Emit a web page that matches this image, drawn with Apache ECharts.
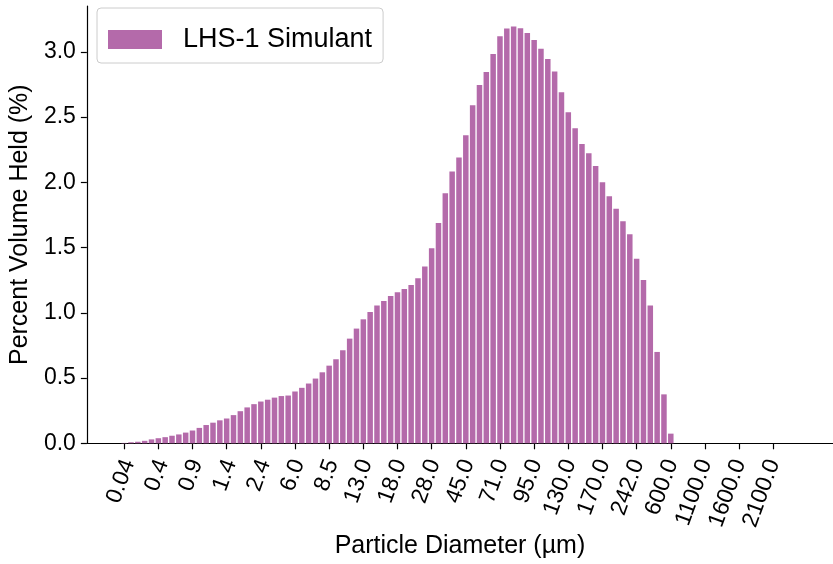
<!DOCTYPE html>
<html>
<head>
<meta charset="utf-8">
<script src="https://cdn.jsdelivr.net/npm/echarts@6/dist/echarts.min.js"></script>
<style>html,body{margin:0;padding:0;background:#fff;}#chart{width:833px;height:564px;}</style>
</head>
<body>
<div id="chart"></div>
<script>
// tick labels shown every 5th bin
var tickLabels = ['0.04','0.4','0.9','1.4','2.4','6.0','8.5','13.0','18.0','28.0','45.0','71.0','95.0','130.0','170.0','242.0','600.0','1100.0','1600.0','2100.0'];
// bin index (category position) for each of the 100 bins
var binIndex = [];
for (var k = 0; k < 100; k++) binIndex.push(k);
// percent volume held per bin
var volumeHeld = [
  0.003, 0.008, 0.012, 0.019, 0.030, 0.039, 0.047, 0.058, 0.068, 0.082,
  0.098, 0.118, 0.140, 0.158, 0.176, 0.190, 0.216, 0.246, 0.275, 0.300,
  0.320, 0.334, 0.350, 0.362, 0.366, 0.397, 0.425, 0.458, 0.496, 0.544,
  0.595, 0.644, 0.713, 0.802, 0.879, 0.950, 1.006, 1.055, 1.090, 1.128,
  1.157, 1.183, 1.213, 1.264, 1.354, 1.494, 1.688, 1.916, 2.082, 2.189,
  2.360, 2.590, 2.746, 2.846, 2.983, 3.119, 3.178, 3.193, 3.180, 3.144,
  3.091, 3.024, 2.945, 2.848, 2.690, 2.536, 2.414, 2.294, 2.222, 2.125,
  2.000, 1.893, 1.798, 1.701, 1.602, 1.415, 1.251, 1.055, 0.700, 0.375,
  0.074, 0, 0, 0, 0, 0, 0, 0, 0, 0,
  0, 0, 0, 0, 0, 0, 0, 0, 0, 0
];
var yTicks = [0, 0.5, 1.0, 1.5, 2.0, 2.5, 3.0];
var seriesName = 'LHS-1 Simulant';

var xTickPositions = tickLabels.map(function (_, i) { return binIndex[i * 5]; });
var barData = [];
binIndex.forEach(function (b, i) { if (volumeHeld[i] > 0) barData.push([b, volumeHeld[i]]); });

var font = '"Liberation Sans", Arial, sans-serif';
var X_MIN = -5.46, X_MAX = 103.74;
var LABEL_SHIFT = 7;
var chart = echarts.init(document.getElementById('chart'), null, {renderer: 'canvas'});
chart.setOption({
  animation: false,
  backgroundColor: '#ffffff',
  grid: [
    {left: 84.5, right: 0, top: 6.1, bottom: 120.7, containLabel: false},
    {left: 84.5 + LABEL_SHIFT, right: -LABEL_SHIFT, top: 6.1, bottom: 120.7, containLabel: false}
  ],
  legend: {
    show: true,
    left: 97, top: 8,
    orient: 'horizontal',
    itemWidth: 54, itemHeight: 19,
    padding: [18, 11, 10, 11],
    borderColor: '#cccccc', borderWidth: 1, borderRadius: 4,
    backgroundColor: 'rgba(255,255,255,0.8)',
    textStyle: {fontFamily: font, fontSize: 27, color: '#000', padding: [0, 0, 0, 16]},
    data: [{name: seriesName, icon: 'rect'}]
  },
  xAxis: [{
    gridIndex: 0,
    type: 'value',
    min: X_MIN, max: X_MAX,
    name: 'Particle Diameter (µm)',
    nameLocation: 'middle', nameGap: 90,
    nameTextStyle: {fontFamily: font, fontSize: 25, color: '#000'},
    axisLine: {show: true, onZero: false, lineStyle: {color: '#000', width: 1.2}},
    axisTick: {show: true, length: 6, lineStyle: {color: '#000', width: 1.2}, customValues: xTickPositions},
    axisLabel: {show: false},
    splitLine: {show: false}
  }, {
    gridIndex: 1,
    type: 'value',
    min: X_MIN, max: X_MAX,
    axisLine: {show: false, onZero: false},
    axisTick: {show: false},
    axisLabel: {
      show: true, rotate: 70, margin: 17,
      fontFamily: font, fontSize: 23, color: '#000',
      customValues: xTickPositions,
      formatter: function (v) { var i = Math.round(v / 5); return tickLabels[i] || ''; }
    },
    splitLine: {show: false}
  }],
  yAxis: [{
    gridIndex: 0,
    type: 'value',
    min: 0, max: 3.35,
    name: 'Percent Volume Held (%)',
    nameLocation: 'middle', nameGap: 49, nameRotate: 90,
    nameTextStyle: {fontFamily: font, fontSize: 25, color: '#000'},
    axisLine: {show: true, onZero: false, lineStyle: {color: '#000', width: 1.2}},
    axisTick: {show: true, length: 6, lineStyle: {color: '#000', width: 1.2}, customValues: yTicks},
    axisLabel: {
      show: true, margin: 11,
      fontFamily: font, fontSize: 23, color: '#000',
      customValues: yTicks,
      formatter: function (v) { return v.toFixed(1); }
    },
    splitLine: {show: false}
  }, {
    gridIndex: 1,
    type: 'value',
    min: 0, max: 3.35,
    show: false
  }],
  series: [{
    name: seriesName,
    type: 'bar',
    xAxisIndex: 0, yAxisIndex: 0,
    data: barData,
    barWidth: 5.5,
    itemStyle: {color: '#b46aaa'}
  }]
});
</script>
</body>
</html>
